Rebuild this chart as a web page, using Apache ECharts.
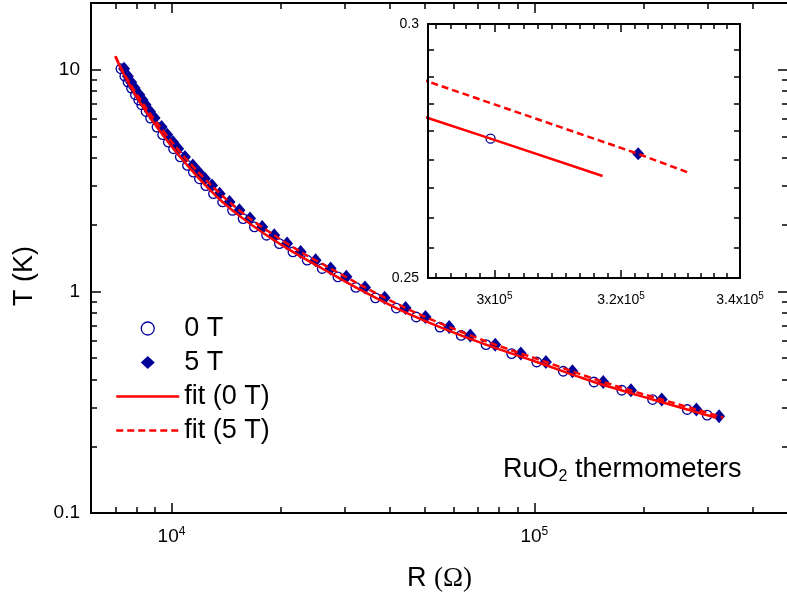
<!DOCTYPE html>
<html>
<head>
<meta charset="utf-8">
<script src="https://cdn.jsdelivr.net/npm/echarts@6/dist/echarts.min.js"></script>
<style>
  html, body { margin: 0; padding: 0; background: #fff; }
  #chart { width: 787px; height: 597px; }
</style>
</head>
<body>
<div id="chart"></div>
<script>
// RuO2 sensor calibration: resistance R (Ohm) versus temperature T (K)
const r0T = [7256, 7435, 7591, 7757, 7953, 8121, 8274, 8509, 8757, 9118, 9451, 9801, 10130, 10573, 11067, 11490,
  11940, 12430, 13050, 13830, 14730, 15750, 16930, 18280, 19830, 21610, 23650, 26020, 28740, 32210, 36480,
  41650, 47270, 54950, 62830, 73580, 86560, 101500, 120100, 146000, 174100, 211700, 263800, 299400];
const t0T = [10.1, 9.35, 8.79, 8.26, 7.71, 7.30, 6.95, 6.48, 6.05, 5.51, 5.09, 4.71, 4.40, 4.04, 3.70, 3.45,
  3.22, 3.00, 2.76, 2.531, 2.321, 2.129, 1.953, 1.791, 1.643, 1.507, 1.382, 1.268, 1.163, 1.042, 0.935,
  0.841, 0.766, 0.690, 0.633, 0.575, 0.524, 0.480, 0.436, 0.390, 0.358, 0.325, 0.293, 0.2763];

const r5T = [7400, 7580, 7740, 7910, 8150, 8320, 8480, 8720, 8980, 9390, 9730, 10100, 10430, 10890, 11450, 11890,
  12360, 12930, 13570, 14450, 15390, 16460, 17780, 19190, 20820, 22690, 24950, 27450, 30320, 34140, 38670,
  44150, 50110, 58250, 66600, 78000, 91750, 107600, 127300, 154800, 184600, 224400, 279600, 322800];
const t5T = [10.1, 9.35, 8.79, 8.26, 7.71, 7.30, 6.95, 6.48, 6.05, 5.51, 5.09, 4.71, 4.40, 4.04, 3.70, 3.45,
  3.22, 3.00, 2.76, 2.531, 2.321, 2.129, 1.953, 1.791, 1.643, 1.507, 1.382, 1.268, 1.163, 1.042, 0.935,
  0.841, 0.766, 0.690, 0.633, 0.575, 0.524, 0.480, 0.436, 0.390, 0.358, 0.325, 0.293, 0.2733];

// fitted calibration curves
const fitR0T = [7000, 7256, 7591, 7953, 8509, 9118, 9801, 10573, 11490, 12430, 13830, 15750, 18280, 21610, 26020,
  32210, 41650, 54950, 73580, 101500, 146000, 211700, 263800, 299400, 317000];
const fitT0T = [11.5, 10.1, 8.79, 7.71, 6.48, 5.51, 4.71, 4.04, 3.45, 3.00, 2.531, 2.129, 1.791, 1.507, 1.268,
  1.042, 0.841, 0.690, 0.575, 0.480, 0.390, 0.325, 0.293, 0.2763, 0.269];
const fitR5T = [7010, 7280, 7640, 8040, 8640, 9310, 10040, 10850, 11850, 12900, 14430, 16440, 19190, 22690, 27450,
  34140, 44150, 58250, 78000, 107600, 154800, 224400, 279600, 322800, 331300];
const fitT5T = [11.5, 10.1, 8.79, 7.71, 6.48, 5.51, 4.71, 4.04, 3.45, 3.00, 2.531, 2.129, 1.791, 1.507, 1.268,
  1.042, 0.841, 0.690, 0.575, 0.480, 0.390, 0.325, 0.293, 0.2733, 0.2696];

// ticks and tick labels of the main panel
const xMajor = [1e4, 1e5];
const xTickLabels = [['10', '4'], ['10', '5']];
const xMinor = [7000, 8000, 9000, 20000, 30000, 40000, 50000, 60000, 70000, 80000, 90000, 200000, 300000, 400000];
const yMajor = [0.1, 1, 10];
const yTickLabels = ['0.1', '1', '10'];
const yMinor = [0.2, 0.3, 0.4, 0.5, 0.6, 0.7, 0.8, 0.9, 2, 3, 4, 5, 6, 7, 8, 9];

// ticks and tick labels of the zoomed panel
const insetXMajor = [300000, 320000, 340000];
const insetXTickLabels = [['3x10', '5'], ['3.2x10', '5'], ['3.4x10', '5']];
const insetXMinor = [291110, 293330, 295560, 297780, 302220, 304440, 306670, 308890, 311110, 313330, 315560,
  317780, 322220, 324440, 326670, 328890, 331110, 333330, 335560, 337780];
const insetYMajor = [0.25, 0.3];
const insetYTickLabels = ['0.25', '0.3'];
const insetYMinor = [0.25556, 0.26111, 0.26667, 0.27222, 0.27778, 0.28333, 0.28889, 0.29444];

const FONT = "'Liberation Sans', Arial, sans-serif";
const BLUE = '#000099';
const RED = '#ff0000';
const DIAMOND = 'path://M0,6.5L7,0L14,6.5L7,13Z';

const zip = (a, b) => a.map((v, i) => [v, b[i]]);

function labelFor(values, labels) {
  return function (v) {
    let best = 0;
    values.forEach(function (t, i) {
      if (Math.abs(Math.log(t / v)) < Math.abs(Math.log(values[best] / v))) best = i;
    });
    return labels[best];
  };
}

function makeAxis(o) {
  const ax = {
    type: 'log',
    logBase: 10,
    gridIndex: o.grid,
    position: o.pos,
    min: o.min,
    max: o.max,
    axisLine: { show: !!o.line, onZero: false, lineStyle: { color: '#000', width: 2 } },
    axisTick: { show: true, inside: true, length: o.len, customValues: o.ticks,
      lineStyle: { color: '#000', width: 1.5 } },
    minorTick: { show: false },
    splitLine: { show: false },
    axisLabel: { show: false },
    axisPointer: { show: false },
    z: 5
  };
  if (o.labels) {
    ax.axisLabel = Object.assign({ show: true, customValues: o.labels, color: '#000', fontFamily: FONT }, o.labelStyle);
  }
  return ax;
}

// power-of-ten label: plain mantissa followed by a raised exponent
function powerLabel(values, labels) {
  const pick = labelFor(values, labels);
  return function (v) { const l = pick(v); return l[0] + '{s|' + l[1] + '}'; };
}

const mainX = { grid: 0, min: 6000, max: 500000 };
const mainY = { grid: 0, min: 0.1, max: 20 };
const inX = { grid: 1, min: 290000, max: 340000 };
const inY = { grid: 1, min: 0.25, max: 0.3 };

const xBottom = makeAxis(Object.assign({}, mainX, {
  pos: 'bottom', ticks: xMajor, len: 10, line: true, labels: xMajor,
  labelStyle: {
    margin: 13,
    fontSize: 19,
    lineHeight: 22,
    formatter: powerLabel(xMajor, xTickLabels),
    rich: {
      s: { fontSize: 12, fontFamily: FONT, color: '#000', lineHeight: 12, verticalAlign: 'top' }
    }
  }
}));
xBottom.name = '{r|R }{o|(\u03a9)}';
xBottom.nameLocation = 'middle';
xBottom.nameGap = 52;
xBottom.nameTextStyle = {
  fontSize: 27,
  rich: {
    r: { fontSize: 27, fontFamily: FONT, color: '#000' },
    o: { fontSize: 27, fontFamily: "'Liberation Serif', 'Times New Roman', serif", color: '#000' }
  }
};

const inXBottom = makeAxis(Object.assign({}, inX, {
  pos: 'bottom', ticks: [300000, 320000], len: 8, line: true, labels: insetXMajor,
  labelStyle: {
    margin: 13,
    fontSize: 14,
    lineHeight: 18,
    formatter: powerLabel(insetXMajor, insetXTickLabels),
    rich: {
      s: { fontSize: 10, fontFamily: FONT, color: '#000', lineHeight: 10, verticalAlign: 'top' }
    }
  }
}));

const option = {
  animation: false,
  backgroundColor: '#fff',
  grid: [
    { left: 91, top: 3, width: 697, height: 510, outerBoundsMode: 'none', containLabel: false },
    { left: 428, top: 24, width: 312, height: 254, outerBoundsMode: 'none', containLabel: false,
      show: true, backgroundColor: '#fff', borderWidth: 0 }
  ],
  xAxis: [
    xBottom,
    makeAxis(Object.assign({}, mainX, { pos: 'bottom', ticks: xMinor, len: 6 })),
    makeAxis(Object.assign({}, mainX, { pos: 'top', ticks: xMajor, len: 10, line: true })),
    makeAxis(Object.assign({}, mainX, { pos: 'top', ticks: xMinor, len: 6 })),
    inXBottom,
    makeAxis(Object.assign({}, inX, { pos: 'bottom', ticks: insetXMinor, len: 5 })),
    makeAxis(Object.assign({}, inX, { pos: 'top', ticks: [300000, 320000], len: 8, line: true })),
    makeAxis(Object.assign({}, inX, { pos: 'top', ticks: insetXMinor, len: 5 }))
  ],
  yAxis: [
    makeAxis(Object.assign({}, mainY, {
      pos: 'left', ticks: yMajor, len: 10, line: true, labels: yMajor,
      labelStyle: { margin: 11, fontSize: 19, formatter: labelFor(yMajor, yTickLabels) }
    })),
    makeAxis(Object.assign({}, mainY, { pos: 'left', ticks: yMinor, len: 6 })),
    makeAxis(Object.assign({}, mainY, { pos: 'right', ticks: yMajor, len: 10, line: true })),
    makeAxis(Object.assign({}, mainY, { pos: 'right', ticks: yMinor, len: 6 })),
    makeAxis(Object.assign({}, inY, {
      pos: 'left', ticks: insetYMinor, len: 6, line: true, labels: insetYMajor,
      labelStyle: { margin: 9, fontSize: 14, formatter: labelFor(insetYMajor, insetYTickLabels) }
    })),
    makeAxis(Object.assign({}, inY, { pos: 'right', ticks: insetYMinor, len: 6, line: true }))
  ],
  legend: {
    orient: 'vertical',
    left: 115,
    top: 315,
    padding: 0,
    itemWidth: 63,
    itemHeight: 13,
    itemGap: 7,
    symbolKeepAspect: true,
    selectedMode: false,
    textStyle: { fontSize: 27, fontFamily: FONT, color: '#000', lineHeight: 26 },
    data: [
      { name: '0 T', icon: 'path://M10,5A5,5,0,1,1,0,5A5,5,0,1,1,10,5Z',
        itemStyle: { color: 'rgba(0,0,0,0)', borderColor: BLUE, borderWidth: 1.3, opacity: 1 } },
      { name: '5 T', icon: DIAMOND, itemStyle: { color: BLUE, borderWidth: 0, opacity: 1 } },
      { name: 'fit (0 T)', itemStyle: { opacity: 0 }, lineStyle: { color: RED, width: 2.5, type: 'solid' } },
      { name: 'fit (5 T)', itemStyle: { opacity: 0 }, lineStyle: { color: RED, width: 2.5, type: [7, 4] } }
    ]
  },
  graphic: [
    {
      type: 'text', x: 25, y: 276, rotation: Math.PI / 2,
      style: { text: 'T (K)', font: '27px ' + FONT, fill: '#000', align: 'center', verticalAlign: 'middle' }
    },
    {
      type: 'text', x: 503, y: 470,
      style: {
        text: '{a|RuO}{b|2}{a| thermometers}',
        fill: '#000', verticalAlign: 'middle',
        rich: {
          a: { fontSize: 27, fontFamily: FONT, lineHeight: 30 },
          b: { fontSize: 16, fontFamily: FONT, lineHeight: 14, verticalAlign: 'bottom' }
        }
      }
    }
  ],
  series: [
    { name: '0 T', type: 'scatter', xAxisIndex: 0, yAxisIndex: 0, data: zip(r0T, t0T),
      symbol: 'circle', symbolSize: 9.5,
      itemStyle: { color: 'rgba(0,0,0,0)', borderColor: BLUE, borderWidth: 1.3, opacity: 1 } },
    { name: '5 T', type: 'scatter', xAxisIndex: 0, yAxisIndex: 0, data: zip(r5T, t5T),
      symbol: 'diamond', symbolSize: [12, 14], itemStyle: { color: BLUE, opacity: 1 } },
    { name: 'fit (0 T)', type: 'line', xAxisIndex: 0, yAxisIndex: 0, data: zip(fitR0T, fitT0T),
      symbol: 'none', smooth: 0.3, itemStyle: { color: RED }, lineStyle: { color: RED, width: 2.5 } },
    { name: 'fit (5 T)', type: 'line', xAxisIndex: 0, yAxisIndex: 0, data: zip(fitR5T, fitT5T),
      symbol: 'none', smooth: 0.3, itemStyle: { color: RED }, lineStyle: { color: RED, width: 2.5, type: [7, 4] } },

    { name: '0 T', type: 'scatter', xAxisIndex: 4, yAxisIndex: 4, data: zip(r0T, t0T), clip: true,
      symbol: 'circle', symbolSize: 9,
      itemStyle: { color: 'rgba(0,0,0,0)', borderColor: BLUE, borderWidth: 1.3, opacity: 1 } },
    { name: '5 T', type: 'scatter', xAxisIndex: 4, yAxisIndex: 4, data: zip(r5T, t5T), clip: true,
      symbol: 'diamond', symbolSize: [12, 13], itemStyle: { color: BLUE, opacity: 1 } },
    { name: 'fit (0 T)', type: 'line', xAxisIndex: 4, yAxisIndex: 4, data: zip(fitR0T, fitT0T), clip: true,
      symbol: 'none', itemStyle: { color: RED }, lineStyle: { color: RED, width: 2.5 } },
    { name: 'fit (5 T)', type: 'line', xAxisIndex: 4, yAxisIndex: 4, data: zip(fitR5T, fitT5T), clip: true,
      symbol: 'none', itemStyle: { color: RED }, lineStyle: { color: RED, width: 2.5, type: [7, 4] } }
  ]
};

const chart = echarts.init(document.getElementById('chart'), null, { renderer: 'canvas' });
chart.setOption(option);
</script>
</body>
</html>
